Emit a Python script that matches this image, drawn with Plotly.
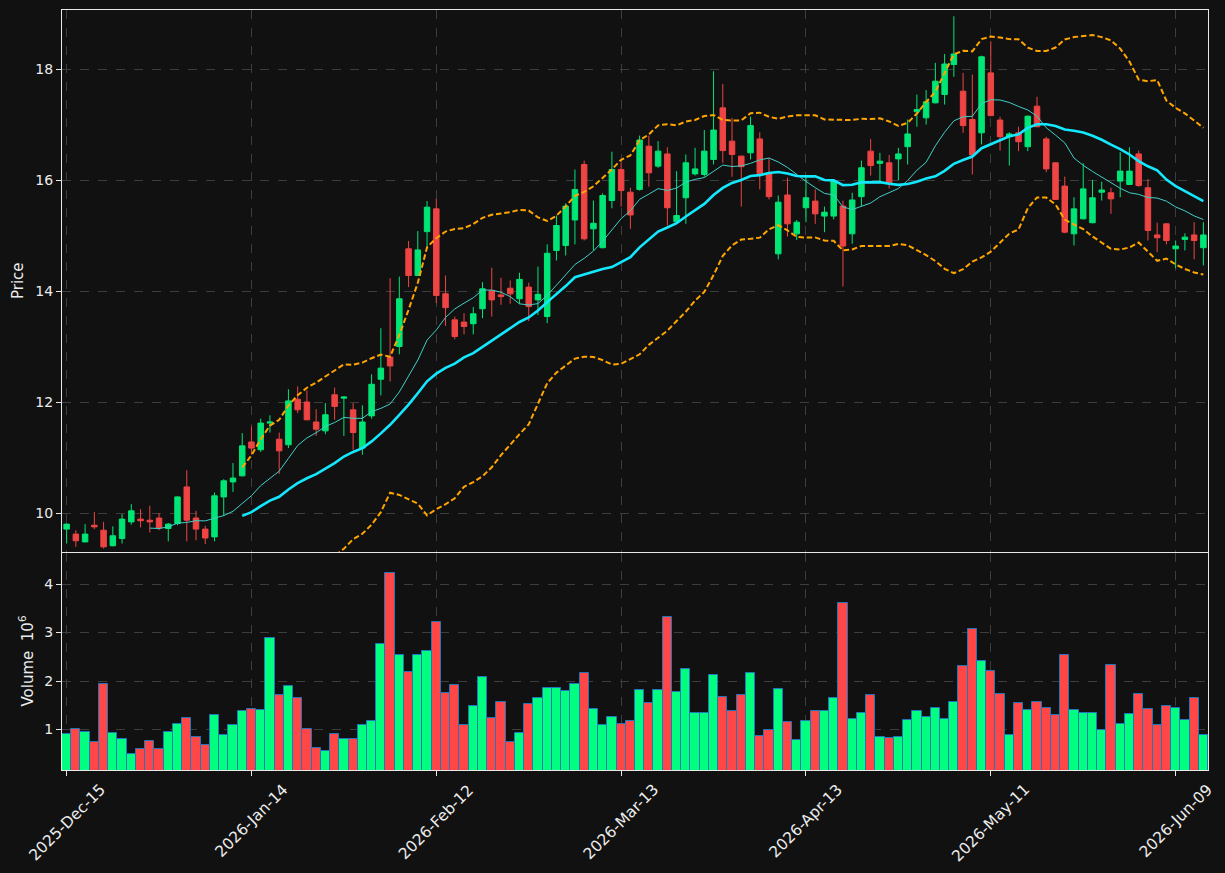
import pandas as pd
import numpy as np
import plotly.graph_objects as go

# ---------------- data ----------------
holidays = ['2025-12-25', '2026-01-01', '2026-01-19', '2026-02-16', '2026-04-03', '2026-05-25']
trade_dates = pd.bdate_range('2025-12-15', periods=124, freq='C', holidays=holidays)
date_labels = list(trade_dates.strftime('%Y-%b-%d'))

open_ = [9.71, 9.62, 9.48, 9.78, 9.69, 9.41, 9.54, 9.84, 9.89, 9.87,
         9.91, 9.72, 9.81, 10.47, 9.91, 9.71, 9.57, 10.29, 10.56, 10.67,
         11.28, 11.14, 11.62, 11.33, 11.23, 12.05, 12.00, 11.64, 11.48, 12.13,
         12.07, 11.86, 11.17, 11.75, 12.41, 12.81, 13.00, 14.76, 14.28, 15.07,
         15.48, 13.95, 13.48, 13.44, 13.41, 13.68, 14.01, 13.93, 14.05, 13.86,
         14.07, 13.84, 13.54, 14.73, 14.82, 15.28, 16.28, 15.12, 14.78, 15.63,
         16.19, 15.78, 15.83, 16.61, 16.25, 16.47, 15.25, 15.68, 16.11, 16.10,
         16.37, 17.30, 16.70, 16.43, 16.49, 16.74, 16.11, 14.67, 15.73, 15.03,
         15.50, 15.62, 15.35, 15.35, 15.53, 15.03, 15.70, 16.52, 16.30, 16.31,
         16.38, 16.60, 17.23, 17.12, 17.39, 17.54, 18.08, 17.60, 17.09, 16.85,
         17.93, 17.08, 16.78, 16.85, 16.60, 17.33, 16.74, 16.31, 15.89, 15.03,
         15.30, 15.23, 15.78, 15.77, 15.98, 15.92, 16.47, 15.86, 15.01, 15.21,
         14.76, 14.93, 15.01, 14.78]
high = [9.81, 9.69, 9.80, 10.02, 9.84, 9.76, 9.98, 10.16, 10.07, 10.13,
        10.00, 9.82, 10.30, 10.77, 10.04, 9.77, 10.37, 10.61, 10.90, 11.44,
        11.56, 11.70, 11.76, 11.45, 12.23, 12.28, 12.21, 11.87, 11.98, 12.26,
        12.10, 11.98, 11.94, 12.50, 13.33, 14.23, 14.26, 14.90, 15.08, 15.62,
        15.66, 14.28, 13.54, 13.60, 13.71, 14.16, 14.42, 14.24, 14.19, 14.33,
        14.15, 14.44, 14.84, 15.36, 15.58, 16.19, 16.35, 15.63, 15.76, 16.51,
        16.31, 15.86, 16.80, 16.80, 16.70, 16.59, 16.16, 16.46, 16.58, 16.90,
        17.96, 17.73, 17.12, 16.44, 17.14, 16.86, 16.39, 15.72, 16.04, 15.28,
        16.08, 15.83, 15.52, 16.00, 15.63, 15.77, 16.35, 16.74, 16.49, 16.45,
        16.58, 17.09, 17.54, 17.62, 18.11, 18.27, 18.95, 17.93, 17.90, 18.24,
        18.50, 17.14, 16.86, 16.96, 17.16, 17.50, 16.78, 16.32, 16.06, 15.69,
        16.30, 16.00, 15.97, 15.86, 16.50, 16.59, 16.53, 16.02, 15.23, 15.22,
        14.91, 15.04, 15.24, 15.24]
low = [9.45, 9.39, 9.47, 9.71, 9.36, 9.40, 9.45, 9.79, 9.74, 9.65,
       9.69, 9.49, 9.78, 9.49, 9.51, 9.44, 9.49, 9.95, 10.38, 10.66,
       11.05, 11.10, 11.45, 10.70, 11.17, 11.80, 11.67, 11.39, 11.42, 11.68,
       11.39, 11.14, 11.05, 11.70, 12.12, 12.37, 12.86, 14.07, 14.27, 14.80,
       13.78, 13.37, 13.13, 13.22, 13.22, 13.51, 13.54, 13.75, 13.77, 13.77,
       13.46, 13.57, 13.42, 14.55, 14.64, 14.84, 14.91, 14.73, 14.77, 15.49,
       15.52, 15.12, 15.81, 15.88, 16.22, 15.18, 15.24, 15.21, 16.08, 16.06,
       16.28, 16.31, 16.06, 15.52, 16.37, 15.83, 15.65, 14.57, 14.98, 14.92,
       15.24, 15.21, 15.06, 15.29, 14.08, 14.85, 15.53, 16.08, 15.98, 15.85,
       16.00, 16.28, 16.96, 17.00, 17.38, 17.36, 17.86, 16.85, 16.10, 16.64,
       17.15, 16.53, 16.26, 16.52, 16.52, 16.95, 16.14, 15.64, 15.04, 14.82,
       15.29, 15.22, 15.63, 15.39, 15.69, 15.91, 15.88, 14.91, 14.70, 14.84,
       14.41, 14.73, 14.57, 14.46]
close = [9.80, 9.50, 9.62, 9.75, 9.39, 9.59, 9.89, 10.04, 9.86, 9.84,
         9.73, 9.80, 10.29, 9.87, 9.71, 9.55, 10.31, 10.58, 10.63, 11.21,
         11.17, 11.62, 11.64, 11.12, 12.02, 11.86, 11.68, 11.51, 11.77, 11.92,
         12.09, 11.45, 11.64, 12.32, 12.61, 12.65, 13.86, 14.28, 14.74, 15.51,
         13.92, 13.70, 13.18, 13.36, 13.59, 14.04, 13.84, 13.90, 13.95, 14.21,
         13.72, 13.94, 14.68, 15.18, 15.53, 15.83, 14.94, 15.22, 15.72, 16.19,
         15.81, 15.37, 16.72, 16.13, 16.52, 15.50, 15.36, 16.31, 16.20, 16.52,
         16.90, 16.53, 16.46, 16.24, 16.98, 16.12, 15.70, 15.60, 15.21, 15.24,
         15.68, 15.39, 15.42, 15.98, 14.81, 15.64, 16.22, 16.26, 16.34, 15.94,
         16.47, 16.83, 17.27, 17.41, 17.78, 18.09, 18.27, 16.98, 16.45, 18.22,
         17.16, 16.78, 16.83, 16.69, 17.15, 16.96, 16.20, 15.65, 15.06, 15.48,
         15.84, 15.68, 15.82, 15.66, 16.16, 16.16, 15.90, 15.09, 14.96, 14.91,
         14.81, 14.97, 14.91, 15.01]
volume_millions = [0.90, 1.00, 0.94, 0.74, 1.93, 0.92, 0.80, 0.49, 0.59, 0.76,
                   0.59, 0.94, 1.11, 1.23, 0.84, 0.67, 1.29, 0.88, 1.09, 1.38,
                   1.42, 1.40, 2.88, 1.71, 1.89, 1.64, 1.00, 0.61, 0.55, 0.90,
                   0.80, 0.80, 1.09, 1.17, 2.76, 4.22, 2.53, 2.18, 2.53, 2.61,
                   3.21, 1.75, 1.91, 1.09, 1.48, 2.08, 1.23, 1.56, 0.74, 0.92,
                   1.52, 1.64, 1.85, 1.85, 1.79, 1.93, 2.16, 1.42, 1.09, 1.25,
                   1.11, 1.17, 1.81, 1.54, 1.81, 3.31, 1.77, 2.24, 1.33, 1.33,
                   2.12, 1.66, 1.38, 1.71, 2.16, 0.86, 0.98, 1.83, 1.15, 0.78,
                   1.17, 1.38, 1.38, 1.64, 3.60, 1.21, 1.35, 1.71, 0.84, 0.82,
                   0.84, 1.19, 1.38, 1.25, 1.44, 1.21, 1.56, 2.30, 3.07, 2.41,
                   2.20, 1.73, 0.88, 1.54, 1.40, 1.56, 1.44, 1.29, 2.53, 1.40,
                   1.33, 1.35, 0.98, 2.32, 1.11, 1.31, 1.73, 1.42, 1.09, 1.48,
                   1.44, 1.19, 1.64, 0.88]
price_ticks = [10, 12, 14, 16, 18]
volume_ticks = [1, 2, 3, 4]

# ---------------- styles ----------------
BG = '#111111'
GRID = '#3d3d3d'
FRAME = '#e8e8e8'
TXT = '#ececec'
UP, DN = '#00E676', '#EF4444'
VUP, VDN = '#00FF80', '#FF4747'
FONT = 'DejaVu Sans'

closes = pd.Series(close)
ma10 = closes.rolling(10).mean()
ma20 = closes.rolling(20).mean()
sd20 = closes.rolling(20).std(ddof=0)
bb_up = ma20 + 2 * sd20
bb_dn = ma20 - 2 * sd20

fig = go.Figure()
fig.add_trace(go.Candlestick(
    x=date_labels, open=open_, high=high, low=low, close=close,
    increasing=dict(line=dict(color=UP, width=1), fillcolor=UP),
    decreasing=dict(line=dict(color=DN, width=1), fillcolor=DN),
    whiskerwidth=0, xaxis='x', yaxis='y', showlegend=False, hoverinfo='skip'))
fig.add_trace(go.Scatter(x=date_labels, y=bb_up, mode='lines', xaxis='x', yaxis='y',
                         line=dict(color='#FFA500', width=2, dash='5.5px,2.8px'), showlegend=False))
fig.add_trace(go.Scatter(x=date_labels, y=bb_dn, mode='lines', xaxis='x', yaxis='y',
                         line=dict(color='#FFA500', width=2, dash='5.5px,2.8px'), showlegend=False))
fig.add_trace(go.Scatter(x=date_labels, y=ma10, mode='lines', xaxis='x', yaxis='y',
                         line=dict(color='#3fd0c8', width=1), showlegend=False))
fig.add_trace(go.Scatter(x=date_labels, y=ma20, mode='lines', xaxis='x', yaxis='y',
                         line=dict(color='#14e8ff', width=2.6), showlegend=False))

vcolors = [VUP if c >= o else VDN for o, c in zip(open_, close)]
fig.add_trace(go.Bar(x=date_labels, y=volume_millions, xaxis='x2', yaxis='y2', width=1.0,
                     marker=dict(color=vcolors, line=dict(color='#2277bb', width=1)),
                     showlegend=False))

n = len(date_labels)
tickvals = date_labels[::20]
xr = [-0.5, n - 0.5]
common_x = dict(type='category', range=xr, tickvals=tickvals, showticklabels=False,
                showgrid=True, gridcolor=GRID, griddash='dash', gridwidth=1,
                showline=True, mirror=True, linecolor=FRAME, linewidth=1.2, zeroline=False)
common_y = dict(showgrid=True, gridcolor=GRID, griddash='dash', gridwidth=1,
                showline=True, mirror=True, linecolor=FRAME, linewidth=1.2, zeroline=False,
                ticks='outside', ticklen=5, tickcolor=FRAME,
                tickfont=dict(family=FONT, size=14, color=TXT))

fig.update_layout(
    width=1225, height=873,
    paper_bgcolor=BG, plot_bgcolor=BG,
    margin=dict(l=62, r=17, t=10, b=103),
    bargap=0,
    boxgap=0.15,
    xaxis=dict(common_x, anchor='y', domain=[0, 1], ticks='', rangeslider=dict(visible=False), matches='x2'),
    xaxis2=dict(common_x, anchor='y2', domain=[0, 1], ticks='outside', ticklen=5, tickcolor=FRAME),
    yaxis=dict(common_y, domain=[0.2868, 1], range=[9.297, 19.063], tickvals=price_ticks),
    yaxis2=dict(common_y, domain=[0, 0.2855], range=[0.165, 4.64], tickvals=volume_ticks),
    font=dict(family=FONT, size=14, color=TXT),
)

annotations = []
for lab in tickvals:
    annotations.append(dict(x=lab, xref='x2', y=0, yref='paper', text=lab, showarrow=False,
                            textangle=-45, xanchor='center', yanchor='top', yshift=-8,
                            font=dict(family=FONT, size=15.5, color=TXT)))
annotations.append(dict(x=0, xref='paper', xshift=-44, y=(0.2868 + 1) / 2, yref='paper', text='Price',
                        showarrow=False, textangle=-90, xanchor='center', yanchor='middle',
                        font=dict(family=FONT, size=15, color=TXT)))
annotations.append(dict(x=0, xref='paper', xshift=-36, y=0.2855 / 2, yref='paper',
                        text='Volume\u00a0\u00a010<sup>6</sup>',
                        showarrow=False, textangle=-90, xanchor='center', yanchor='middle',
                        font=dict(family=FONT, size=15, color=TXT)))
fig.update_layout(annotations=annotations)

fig.write_html('out.html')
